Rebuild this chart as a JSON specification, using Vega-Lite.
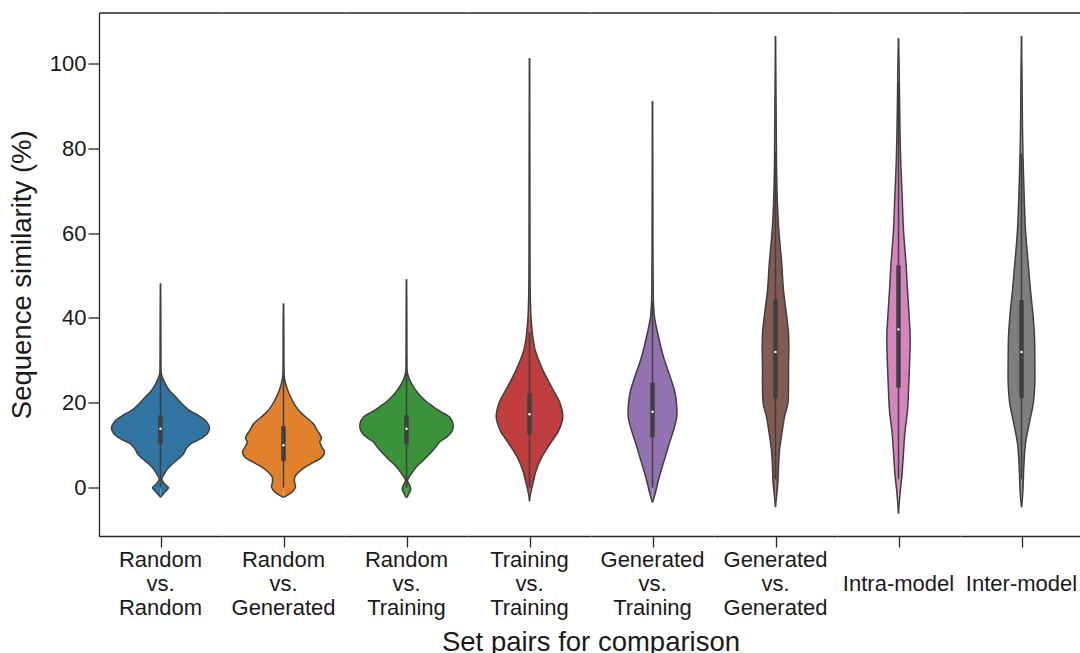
{
  "$schema": "https://vega.github.io/schema/vega-lite/v6.json",
  "background": "white",
  "padding": {"left": 8, "top": 12.5, "right": 0, "bottom": 0},
  "config": {
    "font": "Liberation Sans",
    "view": {"stroke": null},
    "axis": {"grid": false},
    "axisY": {
      "domainColor": "#262626", "domainWidth": 1.3,
      "tickColor": "#262626", "tickWidth": 1.3, "tickSize": 11,
      "labelFont": "Liberation Sans", "labelFontSize": 22, "labelColor": "#1a1a1a", "labelPadding": 2,
      "titleFont": "Liberation Sans", "titleFontSize": 27.5, "titleFontWeight": "normal", "titleColor": "#1a1a1a", "titlePadding": 12.5
    }
  },
  "data": {"values": [
    {"pair": "Random vs. Random", "sim": -2.3, "density": 0},
    {"pair": "Random vs. Random", "sim": -2.05, "density": 0.7},
    {"pair": "Random vs. Random", "sim": -1.0, "density": 4.7},
    {"pair": "Random vs. Random", "sim": 0, "density": 8},
    {"pair": "Random vs. Random", "sim": 0.9, "density": 4},
    {"pair": "Random vs. Random", "sim": 2.1, "density": 1.3},
    {"pair": "Random vs. Random", "sim": 3.3, "density": 4},
    {"pair": "Random vs. Random", "sim": 4.5, "density": 7.3},
    {"pair": "Random vs. Random", "sim": 5.7, "density": 12.3},
    {"pair": "Random vs. Random", "sim": 6.8, "density": 18},
    {"pair": "Random vs. Random", "sim": 8.0, "density": 23},
    {"pair": "Random vs. Random", "sim": 9.2, "density": 25.7},
    {"pair": "Random vs. Random", "sim": 10.4, "density": 30.7},
    {"pair": "Random vs. Random", "sim": 11.6, "density": 40.7},
    {"pair": "Random vs. Random", "sim": 12.7, "density": 46.7},
    {"pair": "Random vs. Random", "sim": 13.9, "density": 49},
    {"pair": "Random vs. Random", "sim": 14.7, "density": 48.3},
    {"pair": "Random vs. Random", "sim": 15.9, "density": 44.7},
    {"pair": "Random vs. Random", "sim": 17.1, "density": 37.3},
    {"pair": "Random vs. Random", "sim": 18.2, "density": 29},
    {"pair": "Random vs. Random", "sim": 19.8, "density": 21.3},
    {"pair": "Random vs. Random", "sim": 21.4, "density": 15},
    {"pair": "Random vs. Random", "sim": 22.9, "density": 9},
    {"pair": "Random vs. Random", "sim": 24.5, "density": 4.7},
    {"pair": "Random vs. Random", "sim": 26.7, "density": 1},
    {"pair": "Random vs. Random", "sim": 30, "density": 0.5},
    {"pair": "Random vs. Random", "sim": 36, "density": 0.4},
    {"pair": "Random vs. Random", "sim": 42, "density": 0.3},
    {"pair": "Random vs. Random", "sim": 48.1, "density": 0},

    {"pair": "Random vs. Generated", "sim": -2.3, "density": 0},
    {"pair": "Random vs. Generated", "sim": -2.05, "density": 2},
    {"pair": "Random vs. Generated", "sim": -1.0, "density": 8.7},
    {"pair": "Random vs. Generated", "sim": 0.1, "density": 12},
    {"pair": "Random vs. Generated", "sim": 1.3, "density": 11},
    {"pair": "Random vs. Generated", "sim": 2.5, "density": 11.3},
    {"pair": "Random vs. Generated", "sim": 3.7, "density": 15.3},
    {"pair": "Random vs. Generated", "sim": 4.9, "density": 22},
    {"pair": "Random vs. Generated", "sim": 6.0, "density": 30.3},
    {"pair": "Random vs. Generated", "sim": 7.2, "density": 38.7},
    {"pair": "Random vs. Generated", "sim": 8.4, "density": 41},
    {"pair": "Random vs. Generated", "sim": 9.6, "density": 38.3},
    {"pair": "Random vs. Generated", "sim": 10.8, "density": 36.3},
    {"pair": "Random vs. Generated", "sim": 11.6, "density": 38},
    {"pair": "Random vs. Generated", "sim": 12.3, "density": 37},
    {"pair": "Random vs. Generated", "sim": 13.5, "density": 33.7},
    {"pair": "Random vs. Generated", "sim": 15.1, "density": 29.7},
    {"pair": "Random vs. Generated", "sim": 16.7, "density": 22},
    {"pair": "Random vs. Generated", "sim": 18.2, "density": 15.3},
    {"pair": "Random vs. Generated", "sim": 20.6, "density": 8.7},
    {"pair": "Random vs. Generated", "sim": 22.9, "density": 4.3},
    {"pair": "Random vs. Generated", "sim": 25.7, "density": 1},
    {"pair": "Random vs. Generated", "sim": 29, "density": 0.5},
    {"pair": "Random vs. Generated", "sim": 35, "density": 0.4},
    {"pair": "Random vs. Generated", "sim": 40, "density": 0.3},
    {"pair": "Random vs. Generated", "sim": 43.4, "density": 0},

    {"pair": "Random vs. Training", "sim": -2.4, "density": 0},
    {"pair": "Random vs. Training", "sim": -2.2, "density": 0.7},
    {"pair": "Random vs. Training", "sim": -1.4, "density": 2.3},
    {"pair": "Random vs. Training", "sim": -0.5, "density": 4.3},
    {"pair": "Random vs. Training", "sim": 0.5, "density": 3.3},
    {"pair": "Random vs. Training", "sim": 1.7, "density": 1},
    {"pair": "Random vs. Training", "sim": 3.3, "density": 5},
    {"pair": "Random vs. Training", "sim": 4.9, "density": 10},
    {"pair": "Random vs. Training", "sim": 6.4, "density": 16.7},
    {"pair": "Random vs. Training", "sim": 8.0, "density": 23.3},
    {"pair": "Random vs. Training", "sim": 9.6, "density": 29.3},
    {"pair": "Random vs. Training", "sim": 10.8, "density": 33.3},
    {"pair": "Random vs. Training", "sim": 11.9, "density": 40},
    {"pair": "Random vs. Training", "sim": 13.1, "density": 45},
    {"pair": "Random vs. Training", "sim": 14.3, "density": 46.7},
    {"pair": "Random vs. Training", "sim": 15.5, "density": 46},
    {"pair": "Random vs. Training", "sim": 16.7, "density": 42.7},
    {"pair": "Random vs. Training", "sim": 17.8, "density": 35},
    {"pair": "Random vs. Training", "sim": 19.0, "density": 27.3},
    {"pair": "Random vs. Training", "sim": 20.6, "density": 18.3},
    {"pair": "Random vs. Training", "sim": 22.2, "density": 11.7},
    {"pair": "Random vs. Training", "sim": 24.5, "density": 5},
    {"pair": "Random vs. Training", "sim": 26.9, "density": 1},
    {"pair": "Random vs. Training", "sim": 30, "density": 0.5},
    {"pair": "Random vs. Training", "sim": 36, "density": 0.4},
    {"pair": "Random vs. Training", "sim": 43, "density": 0.3},
    {"pair": "Random vs. Training", "sim": 49.1, "density": 0},

    {"pair": "Training vs. Training", "sim": -3.2, "density": 0},
    {"pair": "Training vs. Training", "sim": -1.4, "density": 1},
    {"pair": "Training vs. Training", "sim": 0.9, "density": 3.3},
    {"pair": "Training vs. Training", "sim": 4.1, "density": 6.7},
    {"pair": "Training vs. Training", "sim": 7.2, "density": 12.3},
    {"pair": "Training vs. Training", "sim": 10.4, "density": 20.7},
    {"pair": "Training vs. Training", "sim": 13.5, "density": 29.3},
    {"pair": "Training vs. Training", "sim": 16.7, "density": 33.3},
    {"pair": "Training vs. Training", "sim": 19.8, "density": 30.7},
    {"pair": "Training vs. Training", "sim": 22.9, "density": 24},
    {"pair": "Training vs. Training", "sim": 26.1, "density": 16.7},
    {"pair": "Training vs. Training", "sim": 29.2, "density": 10.7},
    {"pair": "Training vs. Training", "sim": 32.4, "density": 5.7},
    {"pair": "Training vs. Training", "sim": 35.5, "density": 3.3},
    {"pair": "Training vs. Training", "sim": 40.2, "density": 1.5},
    {"pair": "Training vs. Training", "sim": 45, "density": 0.8},
    {"pair": "Training vs. Training", "sim": 55, "density": 0.5},
    {"pair": "Training vs. Training", "sim": 70, "density": 0.4},
    {"pair": "Training vs. Training", "sim": 85, "density": 0.3},
    {"pair": "Training vs. Training", "sim": 101.2, "density": 0},

    {"pair": "Generated vs. Training", "sim": -3.5, "density": 0},
    {"pair": "Generated vs. Training", "sim": -1.4, "density": 2.7},
    {"pair": "Generated vs. Training", "sim": 0.9, "density": 5},
    {"pair": "Generated vs. Training", "sim": 4.1, "density": 8.7},
    {"pair": "Generated vs. Training", "sim": 7.2, "density": 12.7},
    {"pair": "Generated vs. Training", "sim": 10.4, "density": 16.7},
    {"pair": "Generated vs. Training", "sim": 13.5, "density": 21},
    {"pair": "Generated vs. Training", "sim": 16.7, "density": 24.3},
    {"pair": "Generated vs. Training", "sim": 19.8, "density": 24},
    {"pair": "Generated vs. Training", "sim": 22.9, "density": 22},
    {"pair": "Generated vs. Training", "sim": 26.1, "density": 17.7},
    {"pair": "Generated vs. Training", "sim": 30.8, "density": 11},
    {"pair": "Generated vs. Training", "sim": 35.5, "density": 6},
    {"pair": "Generated vs. Training", "sim": 40.2, "density": 2},
    {"pair": "Generated vs. Training", "sim": 43.4, "density": 1},
    {"pair": "Generated vs. Training", "sim": 50, "density": 0.6},
    {"pair": "Generated vs. Training", "sim": 60, "density": 0.4},
    {"pair": "Generated vs. Training", "sim": 75, "density": 0.3},
    {"pair": "Generated vs. Training", "sim": 91.1, "density": 0},

    {"pair": "Generated vs. Generated", "sim": -4.6, "density": 0},
    {"pair": "Generated vs. Generated", "sim": -2.2, "density": 1},
    {"pair": "Generated vs. Generated", "sim": 0.9, "density": 2.3},
    {"pair": "Generated vs. Generated", "sim": 4.9, "density": 3},
    {"pair": "Generated vs. Generated", "sim": 8.8, "density": 4},
    {"pair": "Generated vs. Generated", "sim": 12.7, "density": 6.3},
    {"pair": "Generated vs. Generated", "sim": 16.7, "density": 9},
    {"pair": "Generated vs. Generated", "sim": 19.8, "density": 12.3},
    {"pair": "Generated vs. Generated", "sim": 24.5, "density": 13},
    {"pair": "Generated vs. Generated", "sim": 28.4, "density": 13},
    {"pair": "Generated vs. Generated", "sim": 32.4, "density": 13.3},
    {"pair": "Generated vs. Generated", "sim": 36.3, "density": 13},
    {"pair": "Generated vs. Generated", "sim": 40.2, "density": 11.3},
    {"pair": "Generated vs. Generated", "sim": 46.5, "density": 8},
    {"pair": "Generated vs. Generated", "sim": 52.9, "density": 6.2},
    {"pair": "Generated vs. Generated", "sim": 60.7, "density": 3.3},
    {"pair": "Generated vs. Generated", "sim": 68.5, "density": 1.7},
    {"pair": "Generated vs. Generated", "sim": 76.5, "density": 1},
    {"pair": "Generated vs. Generated", "sim": 90, "density": 0.6},
    {"pair": "Generated vs. Generated", "sim": 106.4, "density": 0},

    {"pair": "Intra-model", "sim": -6.1, "density": 0},
    {"pair": "Intra-model", "sim": -1.4, "density": 1.5},
    {"pair": "Intra-model", "sim": 2.5, "density": 3.3},
    {"pair": "Intra-model", "sim": 7.2, "density": 4.7},
    {"pair": "Intra-model", "sim": 12.7, "density": 6.3},
    {"pair": "Intra-model", "sim": 18.2, "density": 9},
    {"pair": "Intra-model", "sim": 24.5, "density": 10.3},
    {"pair": "Intra-model", "sim": 30.8, "density": 11.3},
    {"pair": "Intra-model", "sim": 35.5, "density": 11.7},
    {"pair": "Intra-model", "sim": 40.2, "density": 10.7},
    {"pair": "Intra-model", "sim": 46.5, "density": 9},
    {"pair": "Intra-model", "sim": 52.8, "density": 7.5},
    {"pair": "Intra-model", "sim": 60.7, "density": 5},
    {"pair": "Intra-model", "sim": 68.5, "density": 3.7},
    {"pair": "Intra-model", "sim": 76.4, "density": 2.3},
    {"pair": "Intra-model", "sim": 84.3, "density": 1.5},
    {"pair": "Intra-model", "sim": 92.1, "density": 1},
    {"pair": "Intra-model", "sim": 100, "density": 0.6},
    {"pair": "Intra-model", "sim": 105.9, "density": 0},

    {"pair": "Inter-model", "sim": -4.6, "density": 0},
    {"pair": "Inter-model", "sim": -2.2, "density": 1},
    {"pair": "Inter-model", "sim": 0.9, "density": 1.7},
    {"pair": "Inter-model", "sim": 4.9, "density": 2.3},
    {"pair": "Inter-model", "sim": 10.4, "density": 4},
    {"pair": "Inter-model", "sim": 15.1, "density": 7.7},
    {"pair": "Inter-model", "sim": 19.8, "density": 11.7},
    {"pair": "Inter-model", "sim": 24.5, "density": 13.3},
    {"pair": "Inter-model", "sim": 30.8, "density": 13.3},
    {"pair": "Inter-model", "sim": 35.5, "density": 13},
    {"pair": "Inter-model", "sim": 40.2, "density": 11.7},
    {"pair": "Inter-model", "sim": 46.5, "density": 9},
    {"pair": "Inter-model", "sim": 52.8, "density": 6.7},
    {"pair": "Inter-model", "sim": 60.7, "density": 4},
    {"pair": "Inter-model", "sim": 68.5, "density": 2.7},
    {"pair": "Inter-model", "sim": 76.4, "density": 1.7},
    {"pair": "Inter-model", "sim": 84.3, "density": 1},
    {"pair": "Inter-model", "sim": 95, "density": 0.6},
    {"pair": "Inter-model", "sim": 106.4, "density": 0},

    {"pair": "Random vs. Random", "q1": 10.4, "q3": 17.05, "med": 13.9, "lo": 0, "hi": 27},
    {"pair": "Random vs. Generated", "q1": 6.3, "q3": 14.5, "med": 10.0, "lo": 0, "hi": 26.8},
    {"pair": "Random vs. Training", "q1": 10.2, "q3": 17.05, "med": 13.9, "lo": 0, "hi": 27},
    {"pair": "Training vs. Training", "q1": 12.6, "q3": 22.2, "med": 17.3, "lo": 0, "hi": 36.6},
    {"pair": "Generated vs. Training", "q1": 11.9, "q3": 24.7, "med": 17.9, "lo": 0, "hi": 43.9},
    {"pair": "Generated vs. Generated", "q1": 21.1, "q3": 44.4, "med": 32.0, "lo": 2, "hi": 79},
    {"pair": "Intra-model", "q1": 23.6, "q3": 52.4, "med": 37.3, "lo": 2, "hi": 95.6},
    {"pair": "Inter-model", "q1": 21.1, "q3": 44.2, "med": 32.0, "lo": 2, "hi": 78.8}
  ]},
  "facet": {
    "column": {
      "field": "pair",
      "type": "nominal",
      "sort": ["Random vs. Random", "Random vs. Generated", "Random vs. Training", "Training vs. Training", "Generated vs. Training", "Generated vs. Generated", "Intra-model", "Inter-model"],
      "title": "Set pairs for comparison",
      "header": {
        "labelOrient": "bottom",
        "titleOrient": "bottom",
        "labelExpr": "indexof(datum.value, ' ') < 0 ? ['', datum.value] : split(datum.value, ' ')",
        "labelFont": "Liberation Sans",
        "labelFontSize": 22,
        "labelColor": "#1a1a1a",
        "labelLineHeight": 24,
        "labelBaseline": "middle",
        "labelPadding": 11,
        "titleFont": "Liberation Sans",
        "titleFontSize": 27.5,
        "titleFontWeight": "normal",
        "titleColor": "#1a1a1a",
        "titlePadding": 0
      }
    }
  },
  "spacing": 0,
  "resolve": {"scale": {"x": "independent"}, "axis": {"x": "independent"}},
  "spec": {
    "width": 123,
    "height": 523.5,
    "layer": [
      {
        "transform": [{"filter": "isValid(datum.density)"}],
        "mark": {"type": "area", "orient": "horizontal", "interpolate": "catmull-rom"},
        "encoding": {
          "y": {"field": "sim", "type": "quantitative", "title": "Sequence similarity (%)", "scale": {"domain": [-11.4, 112], "nice": false, "zero": false}, "axis": {"values": [0, 20, 40, 60, 80, 100]}},
          "x": {"field": "density", "type": "quantitative", "stack": null, "scale": {"domain": [-61.5, 61.5], "nice": false, "zero": false},
                "axis": {"orient": "bottom", "values": [0], "labels": false, "title": null, "domain": true, "domainColor": "#262626", "domainWidth": 1.3, "ticks": true, "tickSize": 11, "tickColor": "#262626", "tickWidth": 1.3}},
          "color": {"field": "pair", "type": "nominal", "legend": null,
                    "scale": {"domain": ["Random vs. Random", "Random vs. Generated", "Random vs. Training", "Training vs. Training", "Generated vs. Training", "Generated vs. Generated", "Intra-model", "Inter-model"],
                              "range": ["#3274a1", "#e1812c", "#3a923a", "#c03d3e", "#9372b2", "#845b53", "#d684bd", "#7f7f7f"]}}
        }
      },
      {
        "transform": [{"filter": "isValid(datum.density)"}],
        "mark": {"type": "area", "orient": "horizontal", "interpolate": "catmull-rom"},
        "encoding": {
          "y": {"field": "sim", "type": "quantitative", "title": "Sequence similarity (%)", "scale": {"domain": [-11.4, 112], "nice": false, "zero": false}, "axis": {"values": [0, 20, 40, 60, 80, 100]}},
          "x": {"field": "density", "type": "quantitative", "stack": null, "scale": {"domain": [-61.5, 61.5], "nice": false, "zero": false, "reverse": true},
                "axis": {"orient": "top", "values": [], "labels": false, "ticks": false, "title": null, "domain": true, "domainColor": "#262626", "domainWidth": 1.3}},
          "color": {"field": "pair", "type": "nominal", "legend": null}
        }
      },
      {
        "transform": [{"filter": "isValid(datum.density)"}],
        "mark": {"type": "line", "interpolate": "catmull-rom", "color": "#3f3f3f", "strokeWidth": 1.5},
        "encoding": {
          "y": {"field": "sim", "type": "quantitative", "title": "Sequence similarity (%)", "scale": {"domain": [-11.4, 112], "nice": false, "zero": false}, "axis": {"values": [0, 20, 40, 60, 80, 100]}},
          "x": {"field": "density", "type": "quantitative", "scale": {"domain": [-61.5, 61.5], "nice": false, "zero": false}, "axis": null},
          "order": {"field": "sim", "type": "quantitative"}
        }
      },
      {
        "transform": [{"filter": "isValid(datum.density)"}],
        "mark": {"type": "line", "interpolate": "catmull-rom", "color": "#3f3f3f", "strokeWidth": 1.5},
        "encoding": {
          "y": {"field": "sim", "type": "quantitative", "title": "Sequence similarity (%)", "scale": {"domain": [-11.4, 112], "nice": false, "zero": false}, "axis": {"values": [0, 20, 40, 60, 80, 100]}},
          "x": {"field": "density", "type": "quantitative", "scale": {"domain": [-61.5, 61.5], "nice": false, "zero": false, "reverse": true}, "axis": null},
          "order": {"field": "sim", "type": "quantitative"}
        }
      },
      {
        "transform": [{"filter": "isValid(datum.q1)"}],
        "mark": {"type": "rule", "color": "#3f3f3f", "strokeWidth": 1.5},
        "encoding": {
          "y": {"field": "lo", "type": "quantitative", "title": "Sequence similarity (%)", "scale": {"domain": [-11.4, 112], "nice": false, "zero": false}, "axis": {"values": [0, 20, 40, 60, 80, 100]}},
          "y2": {"field": "hi"},
          "x": {"datum": 0, "type": "quantitative", "scale": {"domain": [-61.5, 61.5], "nice": false, "zero": false}, "axis": null}
        }
      },
      {
        "transform": [{"filter": "isValid(datum.q1)"}],
        "mark": {"type": "rule", "color": "#3f3f3f", "strokeWidth": 4.5},
        "encoding": {
          "y": {"field": "q1", "type": "quantitative", "title": "Sequence similarity (%)", "scale": {"domain": [-11.4, 112], "nice": false, "zero": false}, "axis": {"values": [0, 20, 40, 60, 80, 100]}},
          "y2": {"field": "q3"},
          "x": {"datum": 0, "type": "quantitative", "scale": {"domain": [-61.5, 61.5], "nice": false, "zero": false}, "axis": null}
        }
      },
      {
        "transform": [{"filter": "isValid(datum.q1)"}],
        "mark": {"type": "point", "filled": true, "color": "white", "opacity": 1, "size": 6, "strokeWidth": 0},
        "encoding": {
          "y": {"field": "med", "type": "quantitative", "title": "Sequence similarity (%)", "scale": {"domain": [-11.4, 112], "nice": false, "zero": false}, "axis": {"values": [0, 20, 40, 60, 80, 100]}},
          "x": {"datum": 0, "type": "quantitative", "scale": {"domain": [-61.5, 61.5], "nice": false, "zero": false}, "axis": null}
        }
      }
    ],
    "resolve": {"scale": {"x": "independent"}, "axis": {"x": "independent"}}
  }
}
